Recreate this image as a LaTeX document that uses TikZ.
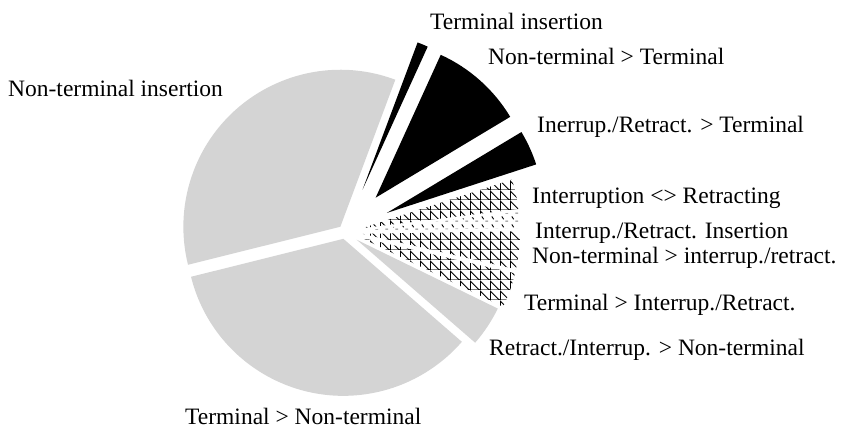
\documentclass[tikz,border=0pt]{standalone}
\usepackage{fontspec}
\setmainfont{Liberation Serif}
\usepackage{tikz}
\usetikzlibrary{patterns}
\usetikzlibrary{calc}

\definecolor{piegray}{RGB}{212,212,212}

% crossed trellis used by the interruption/retraction slices
\pgfdeclarepatterninherentlycolored{trellis}{\pgfpointorigin}{\pgfqpoint{10pt}{10pt}}{\pgfqpoint{10pt}{10pt}}{%
  \pgfsetlinewidth{1pt}%
  \pgfsetstrokecolor{black!50}%
  \pgfpathmoveto{\pgfqpoint{0pt}{0.5pt}}\pgfpathlineto{\pgfqpoint{10pt}{0.5pt}}\pgfusepath{stroke}%
  \pgfsetstrokecolor{black}%
  \pgfpathmoveto{\pgfqpoint{0.5pt}{0pt}}\pgfpathlineto{\pgfqpoint{0.5pt}{10pt}}\pgfusepath{stroke}%
  \pgfpathmoveto{\pgfqpoint{0pt}{10pt}}\pgfpathlineto{\pgfqpoint{10pt}{0pt}}\pgfusepath{stroke}%
}
% sparse ticks for the insertion slice
\pgfdeclarepatterninherentlycolored{ticks}{\pgfpointorigin}{\pgfqpoint{10pt}{8pt}}{\pgfqpoint{10pt}{8pt}}{%
  \pgfsetlinewidth{1pt}%
  \pgfsetstrokecolor{black}%
  \pgfpathmoveto{\pgfqpoint{2pt}{6pt}}\pgfpathlineto{\pgfqpoint{4pt}{3pt}}\pgfusepath{stroke}%
  \pgfsetstrokecolor{black!50}%
  \pgfpathmoveto{\pgfqpoint{6pt}{1pt}}\pgfpathlineto{\pgfqpoint{9pt}{1pt}}\pgfusepath{stroke}%
}

\begin{document}
\begin{tikzpicture}[x=1pt,y=1pt,
  lbl/.style={anchor=base west, inner sep=0pt, font=\fontsize{23.5}{28}\selectfont},
  grayslice/.style={fill=piegray},
  blackslice/.style={fill=black},
  hatchslice/.style={pattern=trellis},
  tickslice/.style={pattern=ticks}]
\useasboundingbox (0,0) rectangle (845,429);
\newcommand{\Rad}{157}
\coordinate (C) at (345,197);

\fill[grayslice] ([shift={(131.75:7)}]C) -- ++(69.5:\Rad) arc[start angle=69.5, end angle=194, radius=\Rad] -- cycle;% Non-terminal insertion
\fill[grayslice] ([shift={(256.5:7)}]C) -- ++(194:\Rad) arc[start angle=194, end angle=319, radius=\Rad] -- cycle;% Terminal > Non-terminal
\fill[grayslice] ([shift={(326.5:14)}]C) -- ++(319:\Rad) arc[start angle=319, end angle=334, radius=\Rad] -- cycle;% Retract./Interrup. > Non-terminal
\fill[hatchslice] ([shift={(340.5:18)}]C) -- ++(334:\Rad) arc[start angle=334, end angle=347, radius=\Rad] -- cycle;% Terminal > Interrup./Retract.
\fill[hatchslice] ([shift={(354:18)}]C) -- ++(347:\Rad) arc[start angle=347, end angle=361, radius=\Rad] -- cycle;% Non-terminal > interrup./retract.
\fill[tickslice] ([shift={(4:18)}]C) -- ++(1:\Rad) arc[start angle=1, end angle=7, radius=\Rad] -- cycle;% Interrup./Retract. Insertion
\fill[hatchslice] ([shift={(12.5:18)}]C) -- ++(7:\Rad) arc[start angle=7, end angle=18, radius=\Rad] -- cycle;% Interruption <> Retracting
\fill[blackslice] ([shift={(24.5:46)}]C) -- ++(18:\Rad) arc[start angle=18, end angle=31, radius=\Rad] -- cycle;% Inerrup./Retract. > Terminal
\fill[blackslice] ([shift={(48.25:46)}]C) -- ++(31:\Rad) arc[start angle=31, end angle=65.5, radius=\Rad] -- cycle;% Non-terminal > Terminal
\fill[blackslice] ([shift={(67.5:46)}]C) -- ++(65.5:\Rad) arc[start angle=65.5, end angle=69.5, radius=\Rad] -- cycle;% Terminal insertion

\node[lbl] (tins) at (430,399) {Terminal insertion};
\node[lbl] (ntt) at (488,364) {Non-terminal > Terminal};
\node[lbl] (irt) at (537,296) {Inerrup./Retract. > Terminal};
\node[lbl] (ir) at (532,226) {Interruption <> Retracting};
\node[lbl] (irins) at (535,191) {Interrup./Retract. Insertion};
\node[lbl] (ntir) at (532,166) {Non-terminal > interrup./retract.};
\node[lbl] (tir) at (524,119) {Terminal > Interrup./Retract.};
\node[lbl] (rint) at (489,74) {Retract./Interrup. > Non-terminal};
\node[lbl] (ntins) at (8,332) {Non-terminal insertion};
\node[lbl] (tnt) at (185,5) {Terminal > Non-terminal};
\end{tikzpicture}
\end{document}
